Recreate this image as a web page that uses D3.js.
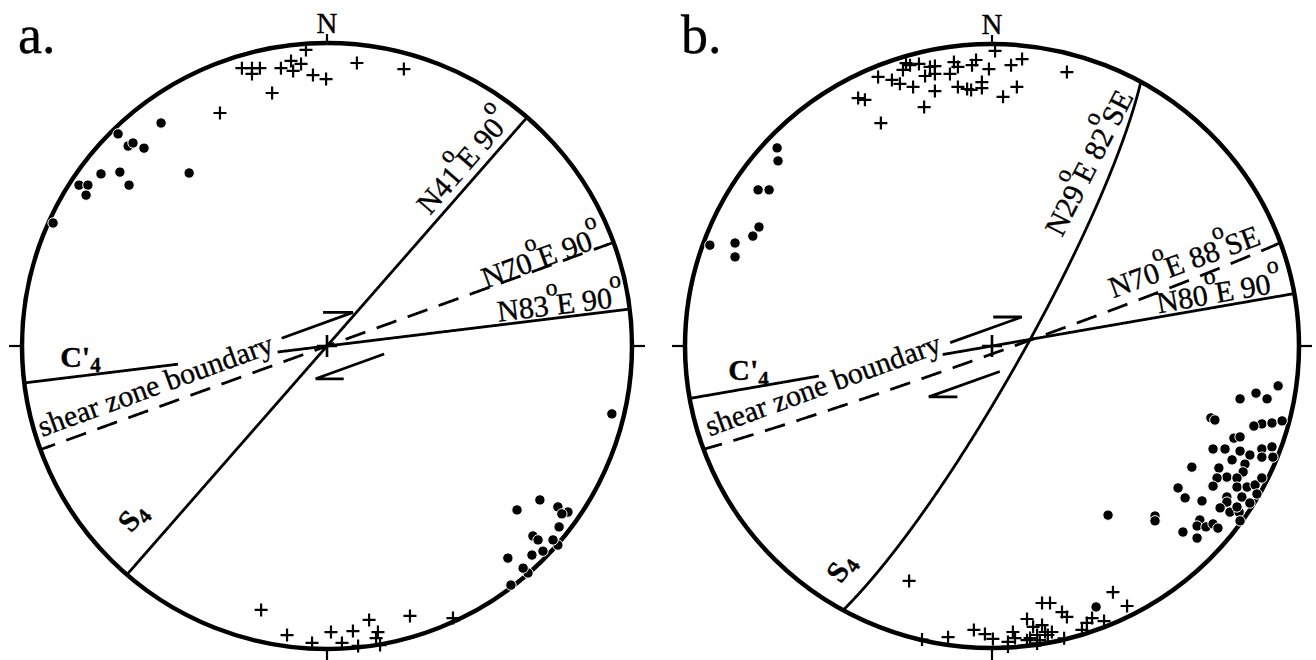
<!DOCTYPE html>
<html lang="en">
<head>
<meta charset="UTF-8">
<title>Stereonets a. b.</title>
<script src="https://cdn.jsdelivr.net/npm/d3@7"></script>
<style>
  body { margin: 0; background: #fff; }
  svg { display: block; }
  text { font-family: "Liberation Serif", "Times New Roman", serif; fill: #000; stroke: #000; stroke-width: 0.35px; }
</style>
</head>
<body>
<script>
var rad = Math.PI / 180;

// ---- panel a data ----
// planes: strike / dip (dip direction only matters when dip < 90)
var planesA = [
  {strike: 41, dip: 90, dipDir: 131},   // S4
  {strike: 70, dip: 90, dipDir: 160},   // shear zone boundary
  {strike: 83, dip: 90, dipDir: 173}    // C'4
];
var labelsA = ["N41°E 90°", "N70°E 90°", "N83°E 90°", "C'_4", "shear zone boundary", "S_4"];
// points in net coordinates (east, north), radius = 1
var crossesA = [
  [-0.279,0.917],[-0.246,0.917],[-0.220,0.917],[-0.246,0.898],[-0.151,0.917],[-0.118,0.941],
  [-0.111,0.908],[-0.085,0.931],[-0.046,0.894],[-0.003,0.881],[-0.069,0.977],[0.098,0.934],
  [0.252,0.914],[-0.180,0.835],[-0.351,0.769],
  [-0.216,-0.871],[-0.131,-0.954],[-0.049,-0.980],[0.013,-0.944],[0.049,-0.980],[0.085,-0.941],
  [0.102,-0.990],[0.138,-0.904],[0.167,-0.944],[0.161,-0.964],[0.174,-0.987],[0.272,-0.891],
  [0.413,-0.898]
];
var dotsA = [
  [-0.685,0.700],[-0.544,0.736],[-0.652,0.660],[-0.636,0.670],[-0.600,0.653],[-0.741,0.568],
  [-0.679,0.574],[-0.452,0.571],[-0.813,0.531],[-0.784,0.531],[-0.790,0.498],[-0.649,0.531],
  [-0.898,0.406],
  [0.623,-0.541],[0.698,-0.508],[0.757,-0.531],[0.790,-0.548],[0.770,-0.554],[0.761,-0.597],
  [0.675,-0.627],[0.692,-0.640],[0.757,-0.657],[0.741,-0.640],[0.672,-0.690],[0.708,-0.677],
  [0.593,-0.700],[0.659,-0.749],[0.643,-0.733],[0.603,-0.789],[0.934,-0.224]
];

// ---- panel b data ----
var planesB = [
  {strike: 29, dip: 82, dipDir: 119},   // S4
  {strike: 70, dip: 88, dipDir: 160},   // shear zone boundary
  {strike: 80, dip: 90, dipDir: 170}    // C'4
];
var labelsB = ["N29°E 82°SE", "N70°E 88°SE", "N80°E 90°", "C'_4", "shear zone boundary", "S_4"];
var crossesB = [
  [0.010,0.977],[0.062,0.930],[0.098,0.950],[0.244,0.907],[0.081,0.858],[0.036,0.825],
  [-0.010,0.917],[-0.052,0.947],[-0.065,0.930],[-0.111,0.924],[-0.124,0.940],[-0.137,0.901],
  [-0.186,0.927],[-0.186,0.901],[-0.218,0.894],[-0.238,0.934],[-0.267,0.930],[-0.290,0.914],
  [-0.300,0.868],[-0.326,0.881],[-0.371,0.891],[-0.257,0.858],[-0.186,0.844],[-0.221,0.791],
  [-0.111,0.858],[-0.081,0.851],[-0.068,0.848],[-0.033,0.874],[-0.033,0.854],[-0.436,0.821],
  [-0.414,0.815],[-0.362,0.738],[-0.280,0.937],[-0.202,0.924],
  [-0.270,-0.778],[-0.143,-0.964],[-0.228,-0.972],[-0.059,-0.940],[-0.023,-0.954],[0.003,-0.970],
  [0.052,-0.995],[0.068,-0.947],[0.114,-0.904],[0.134,-0.930],[0.163,-0.851],[0.189,-0.851],
  [0.228,-0.881],[0.244,-0.897],[0.163,-0.924],[0.173,-0.947],[0.147,-0.957],[0.124,-0.967],
  [0.156,-0.974],[0.182,-0.957],[0.195,-0.947],[0.147,-0.985],[0.235,-0.968],[0.293,-0.940],
  [0.309,-0.917],[0.326,-0.901],[0.365,-0.911],[0.394,-0.815],[0.440,-0.861],[0.052,-0.980],
  [0.075,-0.967],[0.114,-0.974]
];
var dotsB = [
  [-0.700,0.656],[-0.697,0.613],[-0.762,0.517],[-0.726,0.517],[-0.759,0.394],[-0.779,0.364],
  [-0.837,0.341],[-0.837,0.295],[-0.919,0.334],
  [0.932,-0.132],[0.860,-0.156],[0.896,-0.175],[0.808,-0.175],[0.713,-0.238],[0.726,-0.245],
  [0.879,-0.258],[0.912,-0.255],[0.945,-0.248],[0.853,-0.265],[0.788,-0.305],[0.808,-0.301],
  [0.720,-0.341],[0.759,-0.341],[0.808,-0.348],[0.840,-0.361],[0.879,-0.341],[0.912,-0.334],
  [0.879,-0.368],[0.915,-0.368],[0.782,-0.377],[0.824,-0.391],[0.739,-0.404],[0.818,-0.417],
  [0.651,-0.401],[0.765,-0.434],[0.733,-0.437],[0.798,-0.437],[0.720,-0.464],[0.798,-0.467],
  [0.831,-0.467],[0.857,-0.460],[0.879,-0.437],[0.606,-0.470],[0.629,-0.503],[0.684,-0.513],
  [0.765,-0.500],[0.814,-0.500],[0.840,-0.520],[0.863,-0.490],[0.765,-0.517],[0.743,-0.536],
  [0.775,-0.550],[0.805,-0.550],[0.798,-0.533],[0.808,-0.579],[0.378,-0.560],[0.531,-0.563],
  [0.531,-0.579],[0.677,-0.576],[0.668,-0.596],[0.697,-0.599],[0.720,-0.589],[0.736,-0.603],
  [0.622,-0.616],[0.668,-0.636],[0.339,-0.864]
];

// ---- layout (positions and styles, not data) ----
var layoutA = {
  cx: 327, cy: 346, rx: 305, ry: 303, tag: "a.",
  lines: [{dash: false, seg: [[-2, 2]]}, {dash: true, seg: [[-2, 2]]}, {dash: false, seg: [[-2, -0.49], [-0.165, 2]]}],
  labels: [[0.338, 0.429, -49], [0.521, 0.190, -20], [0.562, 0.080, -7], [-0.875, -0.069, 0], [-0.934, -0.300, -20], [-0.643, -0.620, -49]],
  arrows: [{t0: -0.131, t1: 0.118, off: 0.075, barb: -0.098}, {t0: 0.167, t1: -0.072, off: -0.089, barb: 0.092}]
};
var layoutB = {
  cx: 992, cy: 346, rx: 307, ry: 302, tag: "b.",
  lines: [{dash: false, seg: [[-2, 2]]}, {dash: true, seg: [[-2, 2]]}, {dash: false, seg: [[-2, -0.57], [-0.165, 2]]}],
  labels: [[0.228, 0.358, -63], [0.395, 0.158, -20], [0.542, 0.108, -10], [-0.859, -0.113, 0], [-0.919, -0.300, -20], [-0.492, -0.790, -55]],
  arrows: [{t0: -0.124, t1: 0.124, off: 0.057, barb: -0.093}, {t0: -0.005, t1: -0.251, off: -0.088, barb: 0.093}]
};

var svg = d3.select("body").append("svg")
    .attr("width", 1316)
    .attr("height", 660);

// equal-area (Schmidt) lower hemisphere projection of a plane
function planePoints(p) {
  var s = p.strike * rad, dd = p.dipDir * rad, dp = p.dip * rad;
  var S = [Math.sin(s), Math.cos(s), 0],
      D = [Math.sin(dd) * Math.cos(dp), Math.cos(dd) * Math.cos(dp), -Math.sin(dp)];
  return d3.range(0, 180.001, 0.25).map(function(a) {
    var c = Math.cos(a * rad), si = Math.sin(a * rad);
    var v = [c * S[0] + si * D[0], c * S[1] + si * D[1], c * S[2] + si * D[2]];
    var k = 1 / Math.sqrt(1 - v[2]);
    var P = [v[0] * k, v[1] * k];
    P.along = P[0] * S[0] + P[1] * S[1];
    return P;
  });
}

function drawLabel(g, str, px, py, rot, size, bold) {
  var t = g.append("text")
      .attr("transform", "translate(" + px + "," + py + ") rotate(" + rot + ")")
      .style("font-size", size + "px")
      .style("font-weight", bold ? "bold" : "normal");
  var cur = 0, afterSup = false;
  str.match(/°|_.|[^°_]+/g).forEach(function(tok) {
    var target = 0, txt = tok, fs = size, dx = 0;
    if (tok === "°") { target = -0.66 * size; txt = "o"; fs = 0.8 * size; dx = -1; }
    else if (tok[0] === "_") { target = 0.18 * size; txt = tok.slice(1); fs = 0.7 * size; }
    else if (afterSup) { dx = -3; }
    var sp = t.append("tspan").text(txt).style("font-size", fs + "px");
    if (target !== cur) sp.attr("dy", target - cur);
    if (dx) sp.attr("dx", dx);
    afterSup = tok === "°";
    cur = target;
  });
}

function drawPanel(L, planes, labels, crosses, dots) {
  var x = d3.scaleLinear().domain([-1, 1]).range([L.cx - L.rx, L.cx + L.rx]);
  var y = d3.scaleLinear().domain([-1, 1]).range([L.cy + L.ry, L.cy - L.ry]);
  var g = svg.append("g");
  var line = d3.line().x(function(d) { return x(d[0]); }).y(function(d) { return y(d[1]); });

  // primitive circle
  g.append("ellipse")
      .attr("cx", x(0)).attr("cy", y(0))
      .attr("rx", x(1) - x(0)).attr("ry", y(0) - y(1))
      .attr("fill", "none").attr("stroke", "#000").attr("stroke-width", 4.5);

  // N, E, S, W ticks
  var ticks = [[0, 1, 0, -9], [0, -1, 0, 12], [-1, 0, -13, 0], [1, 0, 13, 0]];
  ticks.forEach(function(t) {
    g.append("line")
        .attr("x1", x(t[0])).attr("y1", y(t[1]))
        .attr("x2", x(t[0]) + t[2]).attr("y2", y(t[1]) + t[3])
        .attr("stroke", "#000").attr("stroke-width", 2.2);
  });
  g.append("text").attr("x", x(0)).attr("y", y(1) - 10)
      .attr("text-anchor", "middle").style("font-size", "29px").text("N");
  g.append("text").attr("x", x(-1) - 4).attr("y", 53)
      .style("font-size", "54px").text(L.tag);

  // planes
  planes.forEach(function(p, i) {
    var pts = planePoints(p);
    L.lines[i].seg.forEach(function(sg) {
      var part = pts.filter(function(d) { return d.along >= sg[0] && d.along <= sg[1]; });
      g.append("path").attr("d", line(part))
          .attr("fill", "none").attr("stroke", "#000").attr("stroke-width", 2.8)
          .attr("stroke-dasharray", L.lines[i].dash ? "21,12" : null);
    });
  });

  // shear sense half-arrows, parallel to the shear zone boundary
  var s = planes[1].strike * rad;
  var u = [Math.sin(s), Math.cos(s)], n = [-Math.cos(s), Math.sin(s)];
  L.arrows.forEach(function(a) {
    var p0 = [a.t0 * u[0] + a.off * n[0], a.t0 * u[1] + a.off * n[1]];
    var p1 = [a.t1 * u[0] + a.off * n[0], a.t1 * u[1] + a.off * n[1]];
    var p2 = [p1[0] + a.barb, p1[1]];
    g.append("path").attr("d", line([p0, p1, p2]))
        .attr("fill", "none").attr("stroke", "#000").attr("stroke-width", 2.8);
  });

  // centre cross
  g.append("path")
      .attr("d", "M" + (x(0) - 10) + "," + y(0) + "H" + (x(0) + 10) + "M" + x(0) + "," + (y(0) - 11) + "V" + (y(0) + 11))
      .attr("stroke", "#000").attr("stroke-width", 2.6);

  // labels
  labels.forEach(function(lab, i) {
    var pos = L.labels[i];
    drawLabel(g, lab, x(pos[0]), y(pos[1]), pos[2], 30, lab.indexOf("_") >= 0);
  });

  // data points
  g.selectAll("path.cross").data(crosses).enter().append("path")
      .attr("class", "cross")
      .attr("transform", function(d) { return "translate(" + x(d[0]) + "," + y(d[1]) + ")"; })
      .attr("d", "M-6.5,0H6.5M0,-6.5V6.5")
      .attr("stroke", "#000").attr("stroke-width", 2.2);

  g.selectAll("circle.dot").data(dots).enter().append("circle")
      .attr("class", "dot")
      .attr("cx", function(d) { return x(d[0]); })
      .attr("cy", function(d) { return y(d[1]); })
      .attr("r", 5.2)
      .attr("fill", "#000").attr("stroke", "#fff").attr("stroke-width", 1);
}

drawPanel(layoutA, planesA, labelsA, crossesA, dotsA);
drawPanel(layoutB, planesB, labelsB, crossesB, dotsB);
</script>
</body>
</html>
